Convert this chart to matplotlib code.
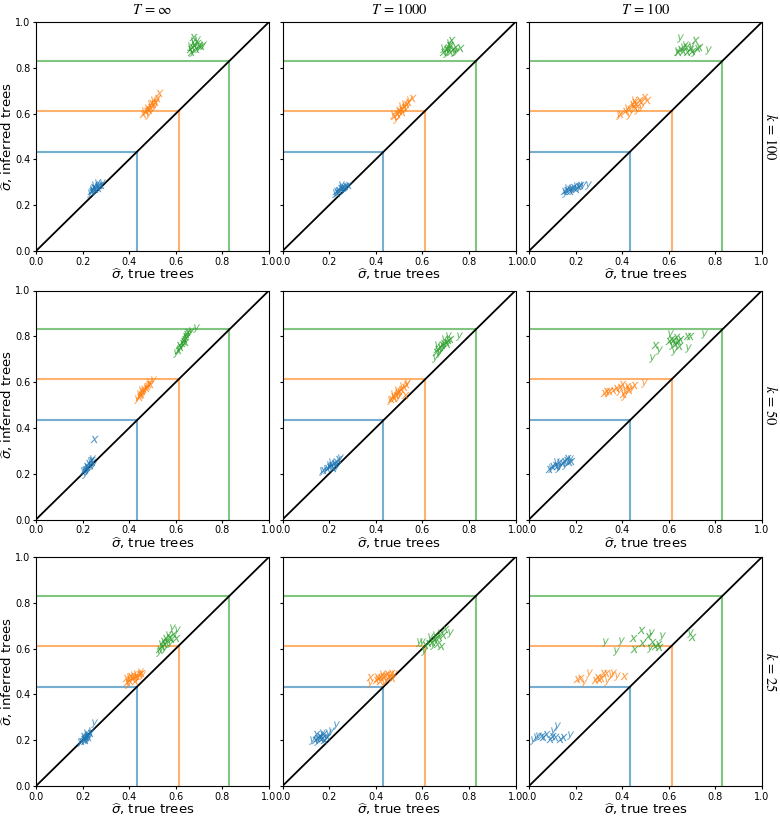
import matplotlib
matplotlib.use("Agg")
import matplotlib.pyplot as plt

# ---------------- data ----------------
col_titles = [r"$T\,=\,\infty$", r"$T\,=\,1000$", r"$T\,=\,100$"]
row_labels = [r"$k\,=\,100$", r"$k\,=\,50$", r"$k\,=\,25$"]
ref_values = [0.433, 0.613, 0.83]
colors = ["#1f77b4", "#ff7f0e", "#2ca02c"]
ticks = [0.0, 0.2, 0.4, 0.6, 0.8, 1.0]

# each list: (true, inferred, marker-letter)
k100_Tinf_blue = [(0.24,0.265,'x'),(0.25,0.275,'x'),(0.26,0.285,'x'),(0.27,0.29,'x'),(0.255,0.27,'x'),(0.245,0.28,'x'),(0.265,0.275,'x'),(0.28,0.29,'x'),(0.235,0.26,'x'),
                  (0.25,0.29,'y'),(0.26,0.295,'y'),(0.24,0.27,'y'),(0.27,0.28,'y'),(0.285,0.295,'y'),(0.255,0.26,'y'),(0.23,0.255,'y')]
k100_Tinf_orange = [(0.47,0.61,'x'),(0.48,0.62,'x'),(0.49,0.63,'x'),(0.50,0.64,'x'),(0.51,0.65,'x'),(0.52,0.67,'x'),(0.53,0.69,'x'),(0.46,0.60,'x'),(0.495,0.645,'x'),(0.485,0.615,'x'),
                    (0.475,0.625,'y'),(0.49,0.64,'y'),(0.505,0.63,'y'),(0.5,0.66,'y'),(0.465,0.61,'y'),(0.515,0.655,'y'),(0.48,0.595,'y')]
k100_Tinf_green = [(0.66,0.88,'x'),(0.67,0.89,'x'),(0.68,0.90,'x'),(0.69,0.91,'x'),(0.675,0.935,'x'),(0.70,0.90,'x'),(0.665,0.87,'x'),(0.685,0.88,'x'),(0.71,0.895,'x'),
                   (0.67,0.87,'y'),(0.68,0.905,'y'),(0.695,0.885,'y'),(0.66,0.895,'y'),(0.675,0.915,'y'),(0.715,0.9,'y'),(0.69,0.92,'y')]

k100_T1000_blue = [(0.23,0.26,'x'),(0.24,0.265,'x'),(0.25,0.27,'x'),(0.26,0.28,'x'),(0.27,0.285,'x'),(0.245,0.275,'x'),(0.28,0.29,'x'),(0.235,0.255,'x'),
                   (0.225,0.255,'y'),(0.255,0.28,'y'),(0.265,0.27,'y'),(0.25,0.29,'y'),(0.24,0.26,'y'),(0.275,0.28,'y'),(0.26,0.265,'y')]
k100_T1000_orange = [(0.48,0.59,'x'),(0.49,0.60,'x'),(0.50,0.61,'x'),(0.51,0.62,'x'),(0.52,0.63,'x'),(0.53,0.64,'x'),(0.54,0.65,'x'),(0.555,0.67,'x'),(0.495,0.615,'x'),(0.515,0.605,'x'),
                     (0.485,0.575,'y'),(0.50,0.595,'y'),(0.52,0.64,'y'),(0.53,0.625,'y'),(0.545,0.66,'y'),(0.475,0.60,'y'),(0.51,0.635,'y')]
k100_T1000_green = [(0.69,0.87,'x'),(0.70,0.88,'x'),(0.71,0.885,'x'),(0.72,0.87,'x'),(0.73,0.88,'x'),(0.74,0.89,'x'),(0.715,0.90,'x'),(0.725,0.92,'x'),(0.76,0.885,'x'),
                    (0.70,0.865,'y'),(0.71,0.875,'y'),(0.72,0.895,'y'),(0.735,0.87,'y'),(0.745,0.875,'y'),(0.715,0.91,'y'),(0.69,0.885,'y')]

k100_T100_blue = [(0.15,0.26,'x'),(0.16,0.265,'x'),(0.17,0.27,'x'),(0.18,0.275,'x'),(0.19,0.28,'x'),(0.2,0.27,'x'),(0.21,0.285,'x'),(0.175,0.26,'x'),(0.22,0.29,'x'),
                  (0.155,0.255,'y'),(0.185,0.265,'y'),(0.2,0.285,'y'),(0.215,0.28,'y'),(0.23,0.29,'y'),(0.252,0.29,'y'),(0.165,0.275,'y')]
k100_T100_orange = [(0.39,0.60,'x'),(0.41,0.61,'x'),(0.43,0.62,'x'),(0.44,0.64,'x'),(0.45,0.65,'x'),(0.46,0.64,'x'),(0.47,0.66,'x'),(0.48,0.65,'x'),(0.493,0.674,'x'),(0.507,0.66,'x'),(0.455,0.625,'x'),
                    (0.387,0.594,'y'),(0.43,0.594,'y'),(0.42,0.625,'y'),(0.445,0.635,'y'),(0.465,0.615,'y'),(0.48,0.63,'y'),(0.45,0.66,'y')]
k100_T100_green = [(0.64,0.87,'x'),(0.65,0.88,'x'),(0.66,0.875,'x'),(0.675,0.89,'x'),(0.69,0.88,'x'),(0.70,0.875,'x'),(0.712,0.92,'x'),(0.72,0.885,'x'),(0.73,0.89,'x'),(0.68,0.87,'x'),
                   (0.649,0.93,'y'),(0.635,0.875,'y'),(0.67,0.9,'y'),(0.695,0.895,'y'),(0.71,0.87,'y'),(0.769,0.879,'y'),(0.66,0.89,'y')]

k50_Tinf_blue = [(0.21,0.22,'x'),(0.22,0.23,'x'),(0.23,0.24,'x'),(0.24,0.25,'x'),(0.225,0.245,'x'),(0.215,0.235,'x'),(0.235,0.26,'x'),(0.205,0.215,'x'),(0.249,0.35,'x'),
                 (0.2,0.21,'y'),(0.22,0.225,'y'),(0.23,0.255,'y'),(0.245,0.24,'y'),(0.21,0.2,'y'),(0.24,0.265,'y'),(0.225,0.215,'y')]
k50_Tinf_orange = [(0.44,0.535,'x'),(0.45,0.55,'x'),(0.455,0.56,'x'),(0.46,0.57,'x'),(0.47,0.575,'x'),(0.475,0.585,'x'),(0.48,0.59,'x'),(0.445,0.545,'x'),(0.49,0.59,'x'),
                   (0.435,0.525,'y'),(0.45,0.565,'y'),(0.465,0.555,'y'),(0.47,0.58,'y'),(0.485,0.6,'y'),(0.5,0.61,'y'),(0.44,0.55,'y')]
k50_Tinf_green = [(0.61,0.74,'x'),(0.615,0.76,'x'),(0.625,0.77,'x'),(0.63,0.78,'x'),(0.635,0.79,'x'),(0.64,0.80,'x'),(0.645,0.81,'x'),(0.65,0.82,'x'),(0.62,0.755,'x'),(0.64,0.775,'x'),
                  (0.60,0.725,'y'),(0.615,0.745,'y'),(0.63,0.765,'y'),(0.645,0.795,'y'),(0.655,0.815,'y'),(0.685,0.835,'y'),(0.665,0.825,'y')]

k50_T1000_blue = [(0.175,0.215,'x'),(0.19,0.225,'x'),(0.2,0.23,'x'),(0.21,0.24,'x'),(0.22,0.245,'x'),(0.23,0.25,'x'),(0.24,0.265,'x'),(0.205,0.235,'x'),(0.215,0.225,'x'),
                  (0.17,0.21,'y'),(0.185,0.22,'y'),(0.2,0.24,'y'),(0.21,0.25,'y'),(0.225,0.24,'y'),(0.245,0.27,'y'),(0.235,0.235,'y')]
k50_T1000_orange = [(0.465,0.525,'x'),(0.475,0.54,'x'),(0.485,0.545,'x'),(0.49,0.555,'x'),(0.5,0.56,'x'),(0.51,0.57,'x'),(0.52,0.58,'x'),(0.53,0.59,'x'),(0.525,0.545,'x'),(0.48,0.53,'x'),
                    (0.46,0.52,'y'),(0.475,0.55,'y'),(0.49,0.565,'y'),(0.505,0.55,'y'),(0.515,0.585,'y'),(0.495,0.535,'y'),(0.535,0.595,'y')]
k50_T1000_green = [(0.66,0.73,'x'),(0.665,0.745,'x'),(0.675,0.755,'x'),(0.685,0.76,'x'),(0.69,0.77,'x'),(0.70,0.775,'x'),(0.71,0.785,'x'),(0.705,0.765,'x'),(0.72,0.79,'x'),
                   (0.655,0.705,'y'),(0.67,0.725,'y'),(0.68,0.74,'y'),(0.695,0.79,'y'),(0.71,0.8,'y'),(0.69,0.755,'y'),(0.757,0.8,'y'),(0.665,0.76,'y')]

k50_T100_blue = [(0.085,0.22,'x'),(0.1,0.235,'x'),(0.11,0.24,'x'),(0.12,0.235,'x'),(0.13,0.25,'x'),(0.14,0.245,'x'),(0.15,0.255,'x'),(0.16,0.26,'x'),(0.17,0.25,'x'),(0.165,0.27,'x'),(0.18,0.255,'x'),
                 (0.095,0.225,'y'),(0.115,0.25,'y'),(0.135,0.235,'y'),(0.155,0.24,'y'),(0.175,0.265,'y'),(0.125,0.225,'y')]
k50_T100_orange = [(0.32,0.553,'x'),(0.33,0.56,'x'),(0.345,0.56,'x'),(0.36,0.565,'x'),(0.375,0.575,'x'),(0.39,0.58,'x'),(0.4,0.59,'x'),(0.42,0.585,'x'),(0.449,0.587,'x'),(0.405,0.55,'x'),(0.43,0.565,'x'),
                   (0.34,0.555,'y'),(0.385,0.56,'y'),(0.406,0.54,'y'),(0.425,0.57,'y'),(0.44,0.575,'y'),(0.495,0.594,'y'),(0.41,0.565,'y')]
k50_T100_green = [(0.542,0.764,'x'),(0.6,0.78,'x'),(0.61,0.79,'x'),(0.62,0.785,'x'),(0.63,0.795,'x'),(0.64,0.78,'x'),(0.643,0.757,'x'),(0.65,0.79,'x'),(0.693,0.8,'x'),(0.68,0.8,'x'),(0.625,0.765,'x'),
                  (0.528,0.706,'y'),(0.557,0.74,'y'),(0.607,0.81,'y'),(0.622,0.735,'y'),(0.682,0.75,'y'),(0.751,0.81,'y'),(0.615,0.76,'y'),(0.635,0.775,'y')]

k25_Tinf_blue = [(0.195,0.195,'x'),(0.2,0.205,'x'),(0.205,0.21,'x'),(0.21,0.215,'x'),(0.215,0.22,'x'),(0.22,0.225,'x'),(0.225,0.215,'x'),(0.23,0.23,'x'),(0.21,0.2,'x'),(0.2,0.22,'x'),
                 (0.19,0.19,'y'),(0.205,0.2,'y'),(0.215,0.23,'y'),(0.225,0.205,'y'),(0.235,0.24,'y'),(0.251,0.274,'y'),(0.22,0.22,'y')]
k25_Tinf_orange = [(0.39,0.455,'x'),(0.4,0.465,'x'),(0.41,0.47,'x'),(0.42,0.475,'x'),(0.43,0.48,'x'),(0.44,0.49,'x'),(0.45,0.495,'x'),(0.405,0.48,'x'),(0.425,0.46,'x'),(0.385,0.47,'x'),
                   (0.395,0.445,'y'),(0.415,0.485,'y'),(0.435,0.47,'y'),(0.445,0.5,'y'),(0.4,0.475,'y'),(0.43,0.49,'y'),(0.455,0.485,'y')]
k25_Tinf_green = [(0.53,0.6,'x'),(0.54,0.61,'x'),(0.55,0.62,'x'),(0.56,0.63,'x'),(0.555,0.645,'x'),(0.57,0.65,'x'),(0.6,0.645,'x'),(0.59,0.665,'x'),(0.545,0.635,'x'),(0.58,0.64,'x'),
                  (0.528,0.584,'y'),(0.535,0.62,'y'),(0.55,0.6,'y'),(0.565,0.66,'y'),(0.585,0.69,'y'),(0.605,0.68,'y'),(0.575,0.625,'y')]

k25_T1000_blue = [(0.14,0.2,'x'),(0.15,0.21,'x'),(0.155,0.22,'x'),(0.16,0.215,'x'),(0.165,0.205,'x'),(0.17,0.21,'x'),(0.175,0.225,'x'),(0.18,0.2,'x'),(0.19,0.215,'x'),(0.145,0.225,'x'),
                  (0.126,0.199,'y'),(0.15,0.195,'y'),(0.17,0.23,'y'),(0.185,0.215,'y'),(0.207,0.242,'y'),(0.229,0.267,'y'),(0.195,0.23,'y')]
k25_T1000_orange = [(0.376,0.474,'x'),(0.4,0.465,'x'),(0.41,0.47,'x'),(0.42,0.475,'x'),(0.43,0.48,'x'),(0.44,0.485,'x'),(0.45,0.49,'x'),(0.465,0.495,'x'),(0.47,0.47,'x'),(0.42,0.46,'x'),(0.455,0.475,'x'),
                    (0.376,0.448,'y'),(0.405,0.475,'y'),(0.425,0.49,'y'),(0.445,0.465,'y'),(0.46,0.485,'y'),(0.48,0.49,'y'),(0.435,0.455,'y')]
k25_T1000_green = [(0.61,0.615,'x'),(0.625,0.625,'x'),(0.64,0.63,'x'),(0.65,0.64,'x'),(0.66,0.645,'x'),(0.67,0.65,'x'),(0.679,0.61,'x'),(0.696,0.686,'x'),(0.665,0.62,'x'),(0.69,0.66,'x'),
                   (0.586,0.629,'y'),(0.6,0.63,'y'),(0.607,0.59,'y'),(0.635,0.65,'y'),(0.655,0.66,'y'),(0.675,0.67,'y'),(0.721,0.67,'y'),(0.645,0.615,'y')]

k25_T100_blue = [(0.061,0.212,'x'),(0.075,0.226,'x'),(0.097,0.219,'x'),(0.111,0.212,'x'),(0.133,0.207,'x'),(0.147,0.215,'x'),(0.088,0.207,'x'),(0.05,0.22,'x'),
                 (0.017,0.2,'y'),(0.04,0.22,'y'),(0.104,0.24,'y'),(0.121,0.263,'y'),(0.176,0.222,'y'),(0.03,0.215,'y')]
k25_T100_orange = [(0.205,0.467,'x'),(0.22,0.472,'x'),(0.285,0.463,'x'),(0.299,0.467,'x'),(0.318,0.492,'x'),(0.332,0.492,'x'),(0.408,0.482,'x'),(0.31,0.47,'x'),(0.29,0.475,'x'),
                   (0.234,0.453,'y'),(0.256,0.493,'y'),(0.335,0.46,'y'),(0.361,0.492,'y'),(0.379,0.482,'y'),(0.35,0.485,'y')]
k25_T100_green = [(0.448,0.645,'x'),(0.451,0.599,'x'),(0.48,0.682,'x'),(0.487,0.623,'x'),(0.512,0.657,'x'),(0.53,0.631,'x'),(0.552,0.62,'x'),(0.559,0.609,'x'),(0.699,0.65,'x'),(0.54,0.61,'x'),
                  (0.328,0.628,'y'),(0.372,0.588,'y'),(0.393,0.632,'y'),(0.523,0.667,'y'),(0.52,0.603,'y'),(0.569,0.653,'y'),(0.689,0.667,'y')]

panels = [
    [[k100_Tinf_blue, k100_Tinf_orange, k100_Tinf_green],
     [k100_T1000_blue, k100_T1000_orange, k100_T1000_green],
     [k100_T100_blue, k100_T100_orange, k100_T100_green]],
    [[k50_Tinf_blue, k50_Tinf_orange, k50_Tinf_green],
     [k50_T1000_blue, k50_T1000_orange, k50_T1000_green],
     [k50_T100_blue, k50_T100_orange, k50_T100_green]],
    [[k25_Tinf_blue, k25_Tinf_orange, k25_Tinf_green],
     [k25_T1000_blue, k25_T1000_orange, k25_T1000_green],
     [k25_T100_blue, k25_T100_orange, k25_T100_green]],
]

# ---------------- figure ----------------
fig = plt.figure(figsize=(7.8, 8.16), dpi=100)
W, H = 780.0, 816.0
lefts = [36, 282.5, 529]
tops = [22, 290.5, 557]
aw, ah = 233, 229

for r in range(3):
    for c in range(3):
        ax = fig.add_axes([lefts[c] / W, 1 - (tops[r] + ah) / H, aw / W, ah / H])
        ax.plot([0, 1], [0, 1], color="black", lw=1.3, zorder=2)
        for v, col in zip(ref_values, colors):
            ax.plot([0, v], [v, v], color=col, lw=1.5, alpha=0.6, zorder=1)
            ax.plot([v, v], [0, v], color=col, lw=1.5, alpha=0.6, zorder=1)
        for pts, col in zip(panels[r][c], colors):
            for m in ("x", "y"):
                xs = [p[0] for p in pts if p[2] == m]
                ys = [p[1] for p in pts if p[2] == m]
                ax.scatter(xs, ys, marker="$%s$" % m, color=col, s=36,
                           alpha=0.75, linewidths=0, zorder=3)
        ax.set_xlim(0, 1)
        ax.set_ylim(0, 1)
        ax.set_xticks(ticks)
        ax.set_yticks(ticks)
        ax.tick_params(labelsize=7, length=2.5, pad=1.5)
        ax.set_xlabel(r"$\widehat{\sigma}$, true trees", fontsize=9.5, labelpad=0)
        if c == 0:
            ax.set_ylabel(r"$\widehat{\sigma}$, inferred trees", fontsize=9.5, labelpad=0)
        else:
            ax.set_yticklabels([])
        if r == 0:
            ax.set_title(col_titles[c], fontsize=10.5, math_fontfamily="stix", pad=6)
        if c == 2:
            ax.text((771 - lefts[c]) / aw, 0.5, row_labels[r], transform=ax.transAxes,
                    rotation=-90, va="center", ha="center", fontsize=10.5,
                    math_fontfamily="stix")

fig.savefig("out.png", dpi=100)
